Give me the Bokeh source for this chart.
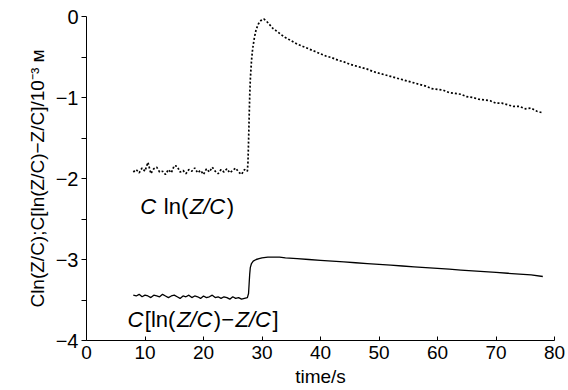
from bokeh.plotting import figure
from bokeh.models import Range1d, ColumnDataSource, FixedTicker
from bokeh.core.properties import value
from bokeh.embed import file_html
from bokeh.resources import INLINE

# ---- data ----
# dotted curve: C ln(Z/C)
t_lnzc_base = [8 + 0.5 * i for i in range(40)]
y_lnzc_base = [-1.92, -1.89, -1.93, -1.87, -1.91, -1.80, -1.94, -1.88, -1.86, -1.92,
               -1.91, -1.95, -1.89, -1.93, -1.84, -1.85, -1.92, -1.90, -1.94, -1.89,
               -1.91, -1.87, -1.93, -1.90, -1.95, -1.88, -1.92, -1.86, -1.91, -1.94,
               -1.89, -1.92, -1.88, -1.93, -1.90, -1.87, -1.92, -1.95, -1.89, -1.91]
t_lnzc_rise = [27.6, 27.7, 27.8, 27.9, 28.0, 28.2, 28.4, 28.7, 29.0, 29.4, 29.8, 30.3,
               30.8, 31.3, 31.9, 32.5, 33.2] + list(range(34, 79))
y_lnzc_rise = [-1.80, -1.55, -1.25, -0.98, -0.78, -0.55, -0.40, -0.26, -0.16, -0.09,
               -0.05, -0.03, -0.06, -0.10, -0.15, -0.18, -0.22,
               -0.26, -0.30, -0.34, -0.37, -0.40, -0.43, -0.46, -0.49, -0.51, -0.54,
               -0.56, -0.59, -0.61, -0.63, -0.65, -0.68, -0.70, -0.72, -0.74, -0.76,
               -0.78, -0.80, -0.82, -0.84, -0.86, -0.89, -0.90, -0.91, -0.94, -0.95,
               -0.96, -0.99, -1.00, -1.02, -1.03, -1.04, -1.07, -1.07, -1.09, -1.11,
               -1.11, -1.14, -1.13, -1.17, -1.19]

# solid curve: C[ln(Z/C) - Z/C]
t_diff_base = [8 + 0.5 * i for i in range(40)]
y_diff_base = [-3.44, -3.45, -3.43, -3.46, -3.44, -3.45, -3.47, -3.44, -3.45, -3.46,
               -3.43, -3.45, -3.47, -3.45, -3.44, -3.46, -3.48, -3.45, -3.46, -3.44,
               -3.47, -3.45, -3.46, -3.48, -3.45, -3.47, -3.46, -3.44, -3.47, -3.46,
               -3.48, -3.46, -3.47, -3.49, -3.46, -3.48, -3.47, -3.49, -3.48, -3.47]
t_diff_rise = [27.7, 27.8, 27.9, 28.0, 28.2, 28.5, 29.0, 29.5, 30, 31, 32, 33, 34, 36, 38, 40] \
              + list(range(42, 79, 2))
y_diff_rise = [-3.42, -3.30, -3.18, -3.10, -3.05, -3.02, -3.00, -2.99, -2.98, -2.97,
               -2.97, -2.97, -2.98, -2.99, -3.00, -3.01,
               -3.02, -3.03, -3.04, -3.05, -3.06, -3.07, -3.08, -3.09, -3.10, -3.11,
               -3.12, -3.13, -3.14, -3.15, -3.16, -3.17, -3.18, -3.19, -3.21]

x_ticks = [0, 10, 20, 30, 40, 50, 60, 70, 80]
y_ticks = [0, -1, -2, -3, -4]
y_minor = [-0.5, -1.5, -2.5, -3.5]

FONT = "Liberation Sans"

p = figure(width=566, height=390, output_backend="svg", toolbar_location=None,
           x_range=Range1d(0, 80), y_range=Range1d(-4, 0),
           min_border_left=86, min_border_right=12, min_border_top=16, min_border_bottom=50)
p.outline_line_color = None
p.grid.visible = False
p.background_fill_color = "white"
p.border_fill_color = "white"

# x axis
xa = p.xaxis[0]
xa.ticker = FixedTicker(ticks=x_ticks)
xa.major_tick_in = 4
xa.major_tick_out = 0
xa.major_label_standoff = 5
xa.axis_label = "time/s"
xa.axis_label_standoff = 4

# y axis
ya = p.yaxis[0]
ya.ticker = FixedTicker(ticks=y_ticks, minor_ticks=y_minor)
ya.major_tick_in = 0
ya.major_tick_out = 5
ya.minor_tick_in = 0
ya.minor_tick_out = 5
ya.major_label_standoff = 3
ya.major_label_overrides = {0: "0", -1: "\u22121", -2: "\u22122", -3: "\u22123", -4: "\u22124"}
ya.axis_label = "Cln(Z/C);C[ln(Z/C)\u2212Z/C]/10\u207b\u00b3 \u1d0d"
ya.axis_label_standoff = 5

for ax in (xa, ya):
    ax.axis_line_color = "black"
    ax.axis_line_width = 1
    ax.major_tick_line_color = "black"
    ax.minor_tick_line_color = "black" if ax is ya else None
    ax.major_label_text_font = FONT
    ax.major_label_text_color = "black"
    ax.axis_label_text_font = FONT
    ax.axis_label_text_font_size = "19px"
    ax.axis_label_text_font_style = "normal"
    ax.axis_label_text_color = "black"
xa.major_label_text_font_size = "19px"
ya.major_label_text_font_size = "20px"

# curves
p.line(t_lnzc_base + t_lnzc_rise, y_lnzc_base + y_lnzc_rise,
       line_color="black", line_width=1.7, line_dash="2 2")
p.line(t_diff_base + t_diff_rise, y_diff_base + y_diff_rise,
       line_color="black", line_width=1.3)

# in-plot labels with italic C and Z (advance widths of Arial-metric font, per 1000 em)
W = {"C": 722, " ": 278, "l": 222, "n": 556, "(": 333, ")": 333, "Z": 611, "/": 278,
     "[": 278, "]": 278, "\u2212": 584}
LBL_SIZE = 22
GAP = 1.5

def segments(parts, x0, y0):
    xs, ys, txt, off, sty = [], [], [], [], []
    cur = 0.0
    for s, italic in parts:
        lead = len(s) - len(s.lstrip(" "))
        cur += lead * W[" "] * LBL_SIZE / 1000.0
        s = s.strip(" ")
        xs.append(x0); ys.append(y0); txt.append(s); off.append(cur)
        sty.append("italic" if italic else "normal")
        cur += sum(W.get(ch, 556) for ch in s) * LBL_SIZE / 1000.0 + GAP
    return xs, ys, txt, off, sty

lab1 = segments([("C", True), (" ln(", False), ("Z/C", True), (")", False)], 9.2, -2.35)
lab2 = segments([("C", True), ("[ln(", False), ("Z/C", True), (")\u2212", False),
                 ("Z/C", True), ("]", False)], 7.0, -3.74)
cols = [a + b for a, b in zip(lab1, lab2)]
src = ColumnDataSource(dict(x=cols[0], y=cols[1], text=cols[2], xo=cols[3], sty=cols[4]))
p.text(x="x", y="y", text="text", x_offset="xo", text_font_style="sty", source=src,
       text_font=value(FONT), text_font_size=f"{LBL_SIZE}px", text_color="black",
       text_align="left", text_baseline="middle")

open("out.html", "w").write(file_html(p, INLINE))
